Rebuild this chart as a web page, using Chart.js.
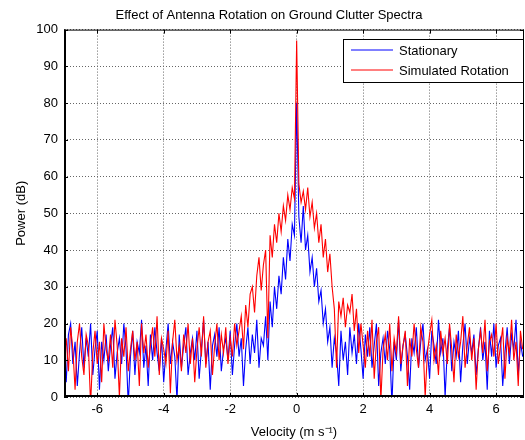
<!DOCTYPE html>
<html>
<head>
<meta charset="utf-8">
<script src="https://cdn.jsdelivr.net/npm/chart.js@4/dist/chart.umd.min.js"></script>
<style>
  html,body{margin:0;padding:0;background:#fff}
  #chart{display:block}
</style>
</head>
<body>
<canvas id="chart" width="525" height="440"></canvas>
<script>
/* ground clutter spectra */
const TITLE = 'Effect of Antenna Rotation on Ground Clutter Spectra';
const X_LABEL = 'Velocity (m s\u207B\u00B9)';
const Y_LABEL = 'Power (dB)';
const SERIES = ['Stationary', 'Simulated Rotation'];
const xTicks = [-6, -4, -2, 0, 2, 4, 6];
const yTicks = [0, 10, 20, 30, 40, 50, 60, 70, 80, 90, 100];
const vMin = -7, vMax = 6.84, zeroBin = 105, dv = 7 / 105;

// power per velocity bin (dB)
const stationary = [
  14, 4, 17, 20, 9, 15, 3, 12, 19, 8, 16, 11, 20, 6, 13, 18, 2, 15, 10, 17,
  7, 14, 19, 5, 12, 16, 9, 20, 13, -2, 11, 18, 6, 15, 12, 21, 8, 14, 3, 17,
  10, 19, 12, 7, 16, 4, 13, 20, 9, 15, 11, -1, 17, 8, 14, 19, 6, 12, 16, 10,
  18, 5, 13, 21, 9, 15, 2, 14, 17, 11, 19, 7, 13, 16, 10,
  18, 6, 14, 20, 11, 16, 3, 13, 19, 9, 17, 12, 21, 8, 16,
  14, 22, 10, 26, 19, 30, 24, 33, 28, 38, 32, 43, 37, 47, 44,
  80,
  49, 42, 52, 40, 44, 34, 38, 30, 35, 26, 29, 20, 24, 15, 19,
  8, 16, 12, 3, 18, 10, 15, 6, 19, 12, 17, 9, 20, 13,
  5, 17, 11, 19, 8, 14, 20, 3, 12, 16, 9, 18, 13, -2, 15, 10, 21, 7, 14, 17,
  11, 2, 16, 12, 19, 8, 15, 20, 10, 13, 5, 18, 14, 9, 21, 12, 16, 0, 13, 19,
  7, 15, 11, 18, 4, 14, 20, 9, 16, 12, 17, 6, 13, 19, 10, 15, 2, 18, 11, 20,
  8, 14, 16, 3, 12, 19, 9, 17, 13, 21, 6, 15, 11
];
const rotation = [
  10, 16, 7, 19, 13, 2, 15, 20, 11, 6, 17, 14, -2, 12, 18, 9, 15, 4, 20, 13,
  10, 17, 8, 21, 14, 0, 16, 11, 19, 7, 13, 18, 10, 15, 3, 20, 12, 17, 8, 14,
  19, 11, 22, 6, 16, 13, 9, 18, 1, 15, 21, 10, 14, 7, 17, 12, 20, 9, 16, 4,
  13, 19, 11, 22, 8, 15, 18, 6, 14, 20, 10, 17, 12, 19, 9,
  16, 11, 20, 14, 18, 22, 13, 25, 19, 28, 30, 23, 33, 38, 29,
  36, 40, 16, 44, 38, 47, 42, 50, 45, 52, 48, 55, 51, 57, 54,
  97,
  58, 53, 56, 51, 57, 49, 53, 46, 50, 42, 47, 38, 43, 34, 39,
  30, 24, 8, 26, 22, 27, 19, 25, 23, 28, 18, 24, 12, 20,
  14, 8, 18, 11, 21, 5, 15, 19, -1, 13, 17, 10, 20, 7, 16, 12, 22, 9, 14, 18,
  3, 16, 11, 20, 13, 8, 19, 15, 0, 12, 17, 21, 10, 14, 6, 18, 12, 16, 9, 20,
  13, 4, 17, 11, 15, 22, 8, 14, 19, 10, 16, 2, 13, 18, 12, 21, 7, 15, 17, 11,
  20, 9, 14, 19, 5, 16, 12, 21, 10, 15, 3, 18, 13
];
const COLORS = ['#0000ff', '#ff0000'];

(function(){
  const FONT = 'Liberation Sans, Arial, Helvetica, sans-serif';
  const LEFT_PAD = 14;
  const vel = stationary.map((_, i) => (i - zeroBin) * dv);
  const pts = arr => arr.map((y, i) => ({x: vel[i], y}));

  // box, inward ticks and legend in the MATLAB style
  const frame = {
    id: 'frame',
    afterDraw(c){
      const {ctx, chartArea: a, scales: {x, y}} = c;
      ctx.save();
      ctx.strokeStyle = '#000'; ctx.lineWidth = 1;
      ctx.strokeRect(a.left + .5, a.top + .5, a.right - a.left - 1, a.bottom - a.top - 1);
      ctx.beginPath();
      xTicks.forEach(v => {
        const px = Math.round(x.getPixelForValue(v)) + .5;
        ctx.moveTo(px, a.bottom); ctx.lineTo(px, a.bottom - 4);
        ctx.moveTo(px, a.top); ctx.lineTo(px, a.top + 4);
      });
      yTicks.forEach(v => {
        const py = Math.round(y.getPixelForValue(v)) + .5;
        ctx.moveTo(a.left, py); ctx.lineTo(a.left + 4, py);
        ctx.moveTo(a.right, py); ctx.lineTo(a.right - 4, py);
      });
      ctx.stroke();
      // left and bottom edges a bit heavier
      ctx.lineWidth = 2;
      ctx.beginPath();
      ctx.moveTo(a.left + 1, a.top); ctx.lineTo(a.left + 1, a.bottom);
      ctx.moveTo(a.left, a.bottom - 1); ctx.lineTo(a.right, a.bottom - 1);
      ctx.stroke();

      // legend
      const lx = 343, ly = 39, lw = 181, lh = 44;
      ctx.fillStyle = '#fff';
      ctx.fillRect(lx, ly, lw, lh);
      ctx.lineWidth = 1;
      ctx.strokeStyle = '#000';
      ctx.strokeRect(lx + .5, ly + .5, lw - 1, lh - 1);
      ctx.font = '13px ' + FONT;
      ctx.textBaseline = 'middle';
      SERIES.forEach((name, i) => {
        const yy = ly + 11 + i * 20;
        ctx.strokeStyle = COLORS[i];
        ctx.beginPath(); ctx.moveTo(lx + 8, yy); ctx.lineTo(lx + 50, yy); ctx.stroke();
        ctx.fillStyle = '#000';
        ctx.fillText(name, lx + 56, yy + 1);
      });
      ctx.restore();
    }
  };

  new Chart(document.getElementById('chart'), {
    type: 'line',
    data: {datasets: [
      {label: SERIES[0], data: pts(stationary), borderColor: COLORS[0], borderWidth: 1.1, pointRadius: 0, order: 2},
      {label: SERIES[1], data: pts(rotation), borderColor: COLORS[1], borderWidth: 1.1, pointRadius: 0, order: 1}
    ]},
    options: {
      responsive: false, animation: false,
      layout: {padding: {left: LEFT_PAD, right: 1, top: 0, bottom: 0}},
      plugins: {
        legend: {display: false}, tooltip: {enabled: false},
        title: {display: true, text: TITLE, color: '#000', font: {family: FONT, size: 13, weight: 'normal'}, padding: {top: 8, bottom: 6}}
      },
      scales: {
        x: {
          type: 'linear', min: vMin, max: vMax,
          afterBuildTicks: s => { s.ticks = xTicks.map(value => ({value})); },
          afterFit: s => { s.height = 43; },
          grid: {color: '#666', drawTicks: false},
          border: {display: false, dash: [1, 2]},
          ticks: {color: '#000', padding: 5, font: {family: FONT, size: 13}, maxRotation: 0},
          title: {display: true, text: X_LABEL, color: '#000', font: {family: FONT, size: 13}, padding: {top: 0, bottom: 0}}
        },
        y: {
          min: 0, max: 100,
          afterBuildTicks: s => { s.ticks = yTicks.map(value => ({value})); },
          afterFit: s => { s.width = 64 - LEFT_PAD; },
          grid: {color: '#666', drawTicks: false},
          border: {display: false, dash: [1, 2]},
          ticks: {color: '#000', padding: 6, font: {family: FONT, size: 13}},
          title: {display: true, text: Y_LABEL, color: '#000', font: {family: FONT, size: 13}, padding: {top: 0, bottom: 0}}
        }
      }
    },
    plugins: [frame]
  });
})();
</script>
</body>
</html>
